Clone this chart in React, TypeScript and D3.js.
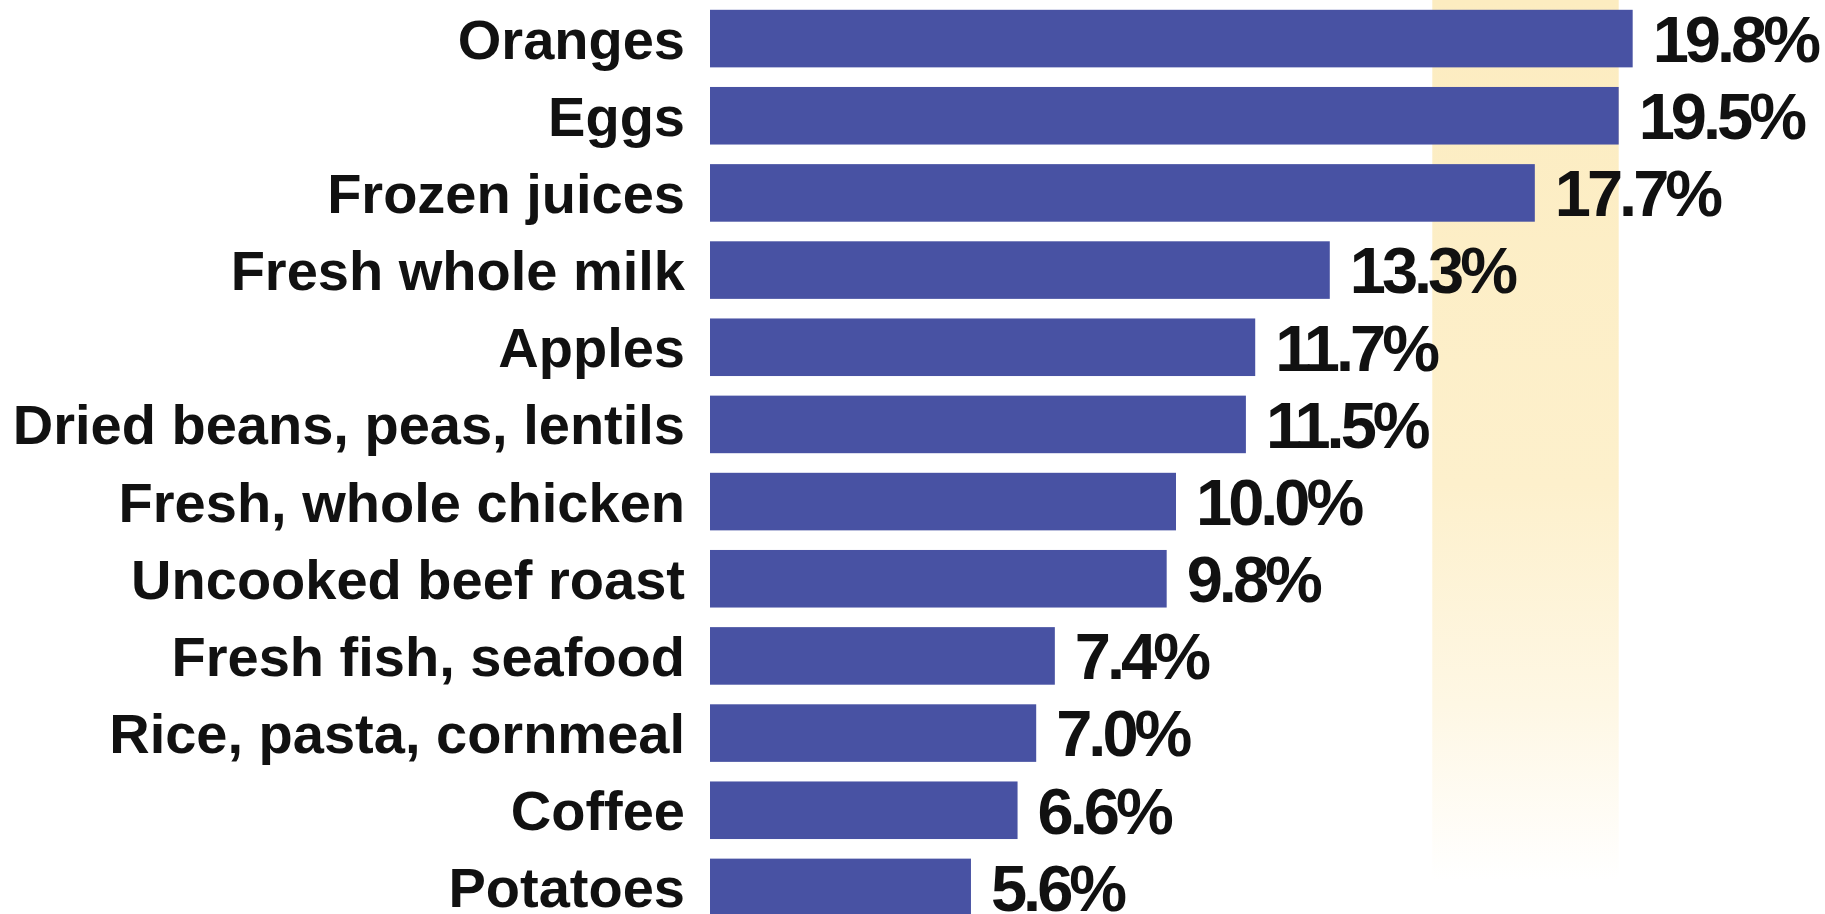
import React, { useEffect, useRef } from 'react';
import * as d3 from 'd3';

const categories = [
  'Oranges',
  'Eggs',
  'Frozen juices',
  'Fresh whole milk',
  'Apples',
  'Dried beans, peas, lentils',
  'Fresh, whole chicken',
  'Uncooked beef roast',
  'Fresh fish, seafood',
  'Rice, pasta, cornmeal',
  'Coffee',
  'Potatoes',
];
const values = [19.8, 19.5, 17.7, 13.3, 11.7, 11.5, 10.0, 9.8, 7.4, 7.0, 6.6, 5.6];
const highlightRange = [15.5, 19.5];

const width = 1825;
const height = 914;

const Chart = () => {
  const ref = useRef<SVGSVGElement>(null);

  useEffect(() => {
    if (!ref.current) return;
    const svg = d3.select(ref.current);
    svg.selectAll('*').remove();

    const x = d3.scaleLinear().domain([0, 20]).range([710, 1642]);
    const y = d3
      .scaleBand<string>()
      .domain(categories)
      .range([0, 926])
      .paddingInner(0.254)
      .paddingOuter(0.127);

    const defs = svg.append('defs');
    const grad = defs
      .append('linearGradient')
      .attr('id', 'band-fade')
      .attr('x1', 0)
      .attr('y1', 0)
      .attr('x2', 0)
      .attr('y2', 1);
    grad.append('stop').attr('offset', '0%').attr('stop-color', '#fcecc0');
    grad.append('stop').attr('offset', '55%').attr('stop-color', '#fdf0cc');
    grad.append('stop').attr('offset', '80%').attr('stop-color', '#fef7e4');
    grad.append('stop').attr('offset', '100%').attr('stop-color', '#ffffff');

    // highlight band behind the bars
    svg
      .append('rect')
      .attr('x', x(highlightRange[0]))
      .attr('y', 0)
      .attr('width', x(highlightRange[1]) - x(highlightRange[0]))
      .attr('height', 880)
      .attr('fill', 'url(#band-fade)');

    const rows = svg
      .append('g')
      .selectAll('g')
      .data(categories)
      .join('g')
      .attr('transform', (d) => `translate(0,${y(d)})`);

    rows
      .append('rect')
      .attr('x', x(0))
      .attr('y', 0)
      .attr('width', (_, i) => x(values[i]) - x(0))
      .attr('height', y.bandwidth())
      .attr('fill', '#4852a3');

    const labelSize = 56;
    rows
      .append('text')
      .attr('x', x(0) - 25)
      .attr('y', y.bandwidth() / 2 + labelSize * 0.358)
      .attr('text-anchor', 'end')
      .attr('font-family', '"Liberation Sans", Arial, sans-serif')
      .attr('font-weight', 'bold')
      .attr('font-size', labelSize)
      .attr('fill', '#111')
      .text((d) => d);

    const valueSize = 65;
    rows
      .append('text')
      .attr('x', (_, i) => x(values[i]) + 20)
      .attr('y', y.bandwidth() / 2 + valueSize * 0.358)
      .attr('font-family', '"Liberation Sans", Arial, sans-serif')
      .attr('font-weight', 'bold')
      .attr('font-size', valueSize)
      .attr('letter-spacing', -4)
      .attr('fill', '#111')
      .text((_, i) => `${values[i].toFixed(1)}%`);
  }, []);

  return (
    <svg
      ref={ref}
      width={width}
      height={height}
      style={{ position: 'absolute', left: 0, top: 0, background: '#fff' }}
    />
  );
};

export default function App() {
  return <Chart />;
}
